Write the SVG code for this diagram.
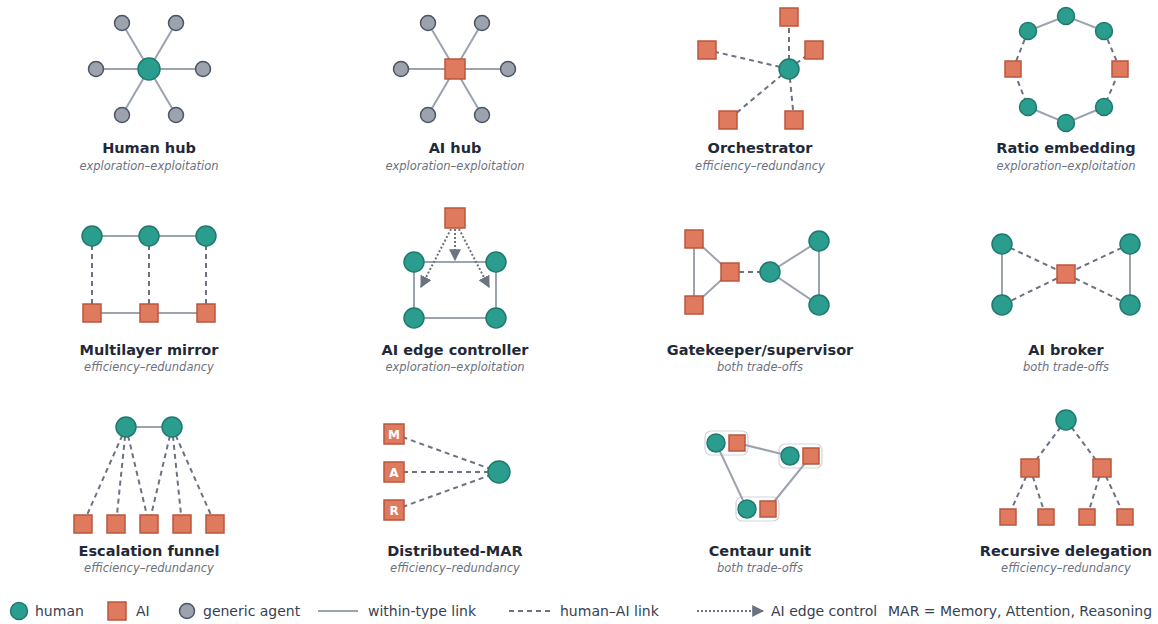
<svg xmlns="http://www.w3.org/2000/svg" width="1158" height="624" viewBox="0 0 1158 624">
<defs>
<style>
.h{fill:#2a9d8f;stroke:#1f7a6d;stroke-width:1.5}
.a{fill:#e07a5f;stroke:#b9573d;stroke-width:1.5}
.g{fill:#9ca3af;stroke:#4b5563;stroke-width:1.5}
.s{stroke:#9ca3af;stroke-width:2;fill:none}
.d{stroke:#6b7280;stroke-width:2;fill:none;stroke-dasharray:5 4}
.o{stroke:#6b7280;stroke-width:2;fill:none;stroke-dasharray:2 2}
.t{font-family:"DejaVu Sans",sans-serif;font-weight:bold;font-size:14.5px;fill:#1f2937;text-anchor:middle}
.u{font-family:"DejaVu Sans",sans-serif;font-style:italic;font-size:11.5px;fill:#6b7280;text-anchor:middle}
.l{font-family:"DejaVu Sans",sans-serif;font-size:14px;fill:#374151}
.m{font-family:"DejaVu Sans",sans-serif;font-weight:bold;font-size:12px;fill:#ffffff;text-anchor:middle}
.p{fill:#ffffff;stroke:#d1d5db;stroke-width:1.2}
</style>
<marker id="arr" viewBox="0 0 10 10" refX="9" refY="5" markerWidth="6" markerHeight="6" orient="auto" markerUnits="strokeWidth"><path d="M0,0L10,5L0,10z" fill="#6b7280"/></marker>
</defs>
<rect width="1158" height="624" fill="#ffffff"/>
<g id="connectors">
<path class="s" d="M149,69L122,23M149,69L176,23M149,69L96,69M149,69L203,69M149,69L122,115M149,69L176,115"/>
<path class="s" d="M455,69L428,23M455,69L482,23M455,69L401,69M455,69L508,69M455,69L428,115M455,69L482,115"/>
<path class="d" d="M789,69L789,17M789,69L707,50M789,69L814,50M789,69L728,120M789,69L794,120"/>
<path class="s" d="M1028,31L1066,16L1104,31M1028,107L1066,123L1104,107"/>
<path class="d" d="M1028,31L1013,69L1028,107M1104,31L1120,69L1104,107"/>
<path class="s" d="M92,236L206,236M92,313L206,313"/>
<path class="d" d="M92,236L92,313M149,236L149,313M206,236L206,313"/>
<path class="s" d="M414,262L496,262L496,318L414,318Z"/>
<path class="o" d="M451,229L421,287" marker-end="url(#arr)"/>
<path class="o" d="M455,229L455,260" marker-end="url(#arr)"/>
<path class="o" d="M459,229L489,287" marker-end="url(#arr)"/>
<path class="s" d="M694,239L694,305M694,239L730,272L694,305M770,272L819,241L819,305Z"/>
<path class="d" d="M730,272L770,272"/>
<path class="s" d="M1002,244L1002,305M1130,244L1130,305"/>
<path class="d" d="M1002,244L1066,274L1002,305M1130,244L1066,274L1130,305"/>
<path class="s" d="M126,427L172,427"/>
<path class="d" d="M126,427L83,524M126,427L116,524M126,427L149,524M172,427L149,524M172,427L182,524M172,427L215,524"/>
<path class="d" d="M394,434L499,472M394,472L499,472M394,510L499,472"/>
<path class="d" d="M1066,420L1030,468M1066,420L1102,468M1030,468L1008,517M1030,468L1046,517M1102,468L1087,517M1102,468L1125,517"/>
</g>
<g id="human-hub">
<circle class="g" cx="122" cy="23" r="7.5"/><circle class="g" cx="176" cy="23" r="7.5"/><circle class="g" cx="96" cy="69" r="7.5"/><circle class="g" cx="203" cy="69" r="7.5"/><circle class="g" cx="122" cy="115" r="7.5"/><circle class="g" cx="176" cy="115" r="7.5"/>
<circle class="h" cx="149" cy="69" r="11"/>
<text class="t" x="149" y="153">Human hub</text><text class="u" x="149" y="170">exploration–exploitation</text>
</g>
<g id="ai-hub">
<circle class="g" cx="428" cy="23" r="7.5"/><circle class="g" cx="482" cy="23" r="7.5"/><circle class="g" cx="401" cy="69" r="7.5"/><circle class="g" cx="508" cy="69" r="7.5"/><circle class="g" cx="428" cy="115" r="7.5"/><circle class="g" cx="482" cy="115" r="7.5"/>
<rect class="a" x="445" y="59" width="20" height="20"/>
<text class="t" x="455" y="153">AI hub</text><text class="u" x="455" y="170">exploration–exploitation</text>
</g>
<g id="orchestrator">
<rect class="a" x="780" y="8" width="18" height="18"/><rect class="a" x="698" y="41" width="18" height="18"/><rect class="a" x="805" y="41" width="18" height="18"/><rect class="a" x="719" y="111" width="18" height="18"/><rect class="a" x="785" y="111" width="18" height="18"/>
<circle class="h" cx="789" cy="69" r="10"/>
<text class="t" x="760" y="153">Orchestrator</text><text class="u" x="760" y="170">efficiency–redundancy</text>
</g>
<g id="ratio-embedding">
<circle class="h" cx="1066" cy="16" r="8.5"/><circle class="h" cx="1104" cy="31" r="8.5"/><circle class="h" cx="1028" cy="31" r="8.5"/><circle class="h" cx="1028" cy="107" r="8.5"/><circle class="h" cx="1104" cy="107" r="8.5"/><circle class="h" cx="1066" cy="123" r="8.5"/>
<rect class="a" x="1005" y="61" width="16" height="16"/><rect class="a" x="1112" y="61" width="16" height="16"/>
<text class="t" x="1066" y="153">Ratio embedding</text><text class="u" x="1066" y="170">exploration–exploitation</text>
</g>
<g id="multilayer-mirror">
<circle class="h" cx="92" cy="236" r="10"/><circle class="h" cx="149" cy="236" r="10"/><circle class="h" cx="206" cy="236" r="10"/>
<rect class="a" x="83" y="304" width="18" height="18"/><rect class="a" x="140" y="304" width="18" height="18"/><rect class="a" x="197" y="304" width="18" height="18"/>
<text class="t" x="149" y="355">Multilayer mirror</text><text class="u" x="149" y="371">efficiency–redundancy</text>
</g>
<g id="ai-edge-controller">
<rect class="a" x="445" y="208" width="20" height="20"/>
<circle class="h" cx="414" cy="262" r="10"/><circle class="h" cx="496" cy="262" r="10"/><circle class="h" cx="414" cy="318" r="10"/><circle class="h" cx="496" cy="318" r="10"/>
<text class="t" x="455" y="355">AI edge controller</text><text class="u" x="455" y="371">exploration–exploitation</text>
</g>
<g id="gatekeeper">
<rect class="a" x="685" y="230" width="18" height="18"/><rect class="a" x="685" y="296" width="18" height="18"/><rect class="a" x="721" y="263" width="18" height="18"/>
<circle class="h" cx="770" cy="272" r="10"/><circle class="h" cx="819" cy="241" r="10"/><circle class="h" cx="819" cy="305" r="10"/>
<text class="t" x="760" y="355">Gatekeeper/supervisor</text><text class="u" x="760" y="371">both trade-offs</text>
</g>
<g id="ai-broker">
<circle class="h" cx="1002" cy="244" r="10"/><circle class="h" cx="1002" cy="305" r="10"/><circle class="h" cx="1130" cy="244" r="10"/><circle class="h" cx="1130" cy="305" r="10"/>
<rect class="a" x="1057" y="265" width="18" height="18"/>
<text class="t" x="1066" y="355">AI broker</text><text class="u" x="1066" y="371">both trade-offs</text>
</g>
<g id="escalation-funnel">
<circle class="h" cx="126" cy="427" r="10"/><circle class="h" cx="172" cy="427" r="10"/>
<rect class="a" x="74" y="515" width="18" height="18"/><rect class="a" x="107" y="515" width="18" height="18"/><rect class="a" x="140" y="515" width="18" height="18"/><rect class="a" x="173" y="515" width="18" height="18"/><rect class="a" x="206" y="515" width="18" height="18"/>
<text class="t" x="149" y="556">Escalation funnel</text><text class="u" x="149" y="572">efficiency–redundancy</text>
</g>
<g id="distributed-mar">
<rect class="a" x="384" y="424" width="20" height="20"/><text class="m" x="394" y="438.5">M</text>
<rect class="a" x="384" y="462" width="20" height="20"/><text class="m" x="394" y="476.5">A</text>
<rect class="a" x="384" y="500" width="20" height="20"/><text class="m" x="394" y="514.5">R</text>
<circle class="h" cx="499" cy="472" r="11"/>
<text class="t" x="455" y="556">Distributed-MAR</text><text class="u" x="455" y="572">efficiency–redundancy</text>
</g>
<g id="centaur-unit">
<rect class="p" x="705" y="431" width="43" height="24" rx="6"/>
<rect class="p" x="779" y="444" width="43" height="24" rx="6"/>
<rect class="p" x="736" y="497" width="43" height="24" rx="6"/>
<path class="s" d="M737,443L790,456M716,443L747,509M811,456L768,509"/>
<circle class="h" cx="716" cy="443" r="9"/><rect class="a" x="729" y="435" width="16" height="16"/>
<circle class="h" cx="790" cy="456" r="9"/><rect class="a" x="803" y="448" width="16" height="16"/>
<circle class="h" cx="747" cy="509" r="9"/><rect class="a" x="760" y="501" width="16" height="16"/>
<text class="t" x="760" y="556">Centaur unit</text><text class="u" x="760" y="572">both trade-offs</text>
</g>
<g id="recursive-delegation">
<circle class="h" cx="1066" cy="420" r="10"/>
<rect class="a" x="1021" y="459" width="18" height="18"/><rect class="a" x="1093" y="459" width="18" height="18"/>
<rect class="a" x="1000" y="509" width="16" height="16"/><rect class="a" x="1038" y="509" width="16" height="16"/><rect class="a" x="1079" y="509" width="16" height="16"/><rect class="a" x="1117" y="509" width="16" height="16"/>
<text class="t" x="1066" y="556">Recursive delegation</text><text class="u" x="1066" y="572">efficiency–redundancy</text>
</g>
<g id="legend">
<circle class="h" cx="19" cy="611" r="8.5"/><text class="l" x="35" y="616">human</text>
<rect class="a" x="108" y="602" width="18" height="18"/><text class="l" x="136" y="616">AI</text>
<circle class="g" cx="187" cy="611" r="7.5"/><text class="l" x="203" y="616">generic agent</text>
<path class="s" d="M318,611L358,611"/><text class="l" x="368" y="616">within-type link</text>
<path class="d" d="M509,611L550,611"/><text class="l" x="560" y="616">human–AI link</text>
<path class="o" d="M697,611L763,611" marker-end="url(#arr)"/><text class="l" x="771" y="616">AI edge control</text>
<text class="l" x="888" y="616">MAR = Memory, Attention, Reasoning</text>
</g>
</svg>
